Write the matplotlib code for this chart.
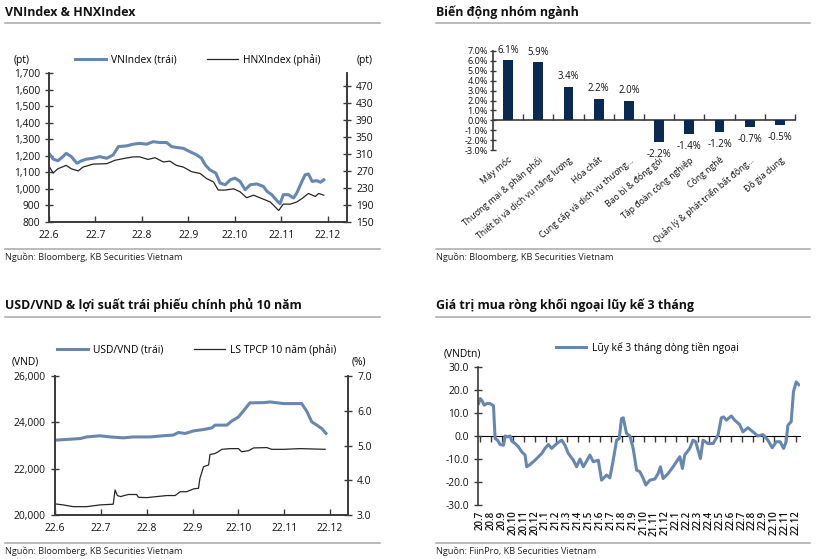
import numpy as np
import matplotlib
matplotlib.use('Agg')
import matplotlib.pyplot as plt
from matplotlib.lines import Line2D
from matplotlib.ticker import FuncFormatter

plt.rcParams['font.family'] = ['Open Sans', 'DejaVu Sans']

# ---- Dữ liệu: VNIndex & HNXIndex (tháng tính từ 22.6)
vn_x = [0, 0.09, 0.19, 0.30, 0.37, 0.48, 0.60, 0.70, 0.81, 0.95, 1.09, 1.24, 1.38, 1.49, 1.67,
        1.81, 1.95, 2.10, 2.24, 2.39, 2.53, 2.64, 2.75, 2.89, 3.03, 3.18, 3.28, 3.36, 3.46, 3.59,
        3.68, 3.79, 3.90, 4.00, 4.11, 4.22, 4.33, 4.47, 4.61, 4.69, 4.79, 4.90, 4.97, 5.04, 5.15,
        5.26, 5.33, 5.44, 5.51, 5.58, 5.66, 5.76, 5.84, 5.91]
vn_y = [1215, 1180, 1170, 1195, 1215, 1195, 1155, 1170, 1180, 1185, 1195, 1185, 1205, 1255, 1260,
        1270, 1275, 1270, 1285, 1280, 1280, 1255, 1250, 1245, 1225, 1205, 1185, 1145, 1115, 1095,
        1035, 1025, 1055, 1065, 1045, 995, 1025, 1030, 1015, 985, 965, 930, 910, 965, 965,
        945, 975, 1045, 1085, 1090, 1045, 1050, 1040, 1055]
hnx_x = [0, 0.09, 0.19, 0.37, 0.48, 0.63, 0.73, 0.95, 1.24, 1.42, 1.60, 1.81, 1.95, 2.13, 2.28,
         2.46, 2.60, 2.74, 2.89, 3.07, 3.25, 3.39, 3.54, 3.64, 3.79, 3.97, 4.11, 4.25, 4.40, 4.58,
         4.76, 4.94, 5.04, 5.19, 5.33, 5.44, 5.58, 5.73, 5.80, 5.91]
hnx_y = [281, 265, 275, 283, 275, 270, 279, 286, 287, 295, 299, 303, 303, 297, 301,
         291, 293, 283, 279, 268, 264, 252, 244, 225, 225, 228, 221, 207, 213, 205,
         197, 177, 192, 192, 197, 205, 217, 210, 217, 213]
month_labels_1 = ['22.6', '22.7', '22.8', '22.9', '22.10', '22.11', '22.12']

# ---- Biến động nhóm ngành
sectors = ['Máy móc', 'Thương mại & phân phối', 'Thiết bị và dịch vụ năng lượng', 'Hóa chất',
           'Cung cấp và dịch vụ thương...', 'Bao bì & đóng gói', 'Tập đoàn công nghiệp',
           'Công nghệ', 'Quản lý & phát triển bất động...', 'Đồ gia dụng']
sector_chg = [6.1, 5.9, 3.4, 2.2, 2.0, -2.2, -1.4, -1.2, -0.7, -0.5]

# ---- USD/VND & lợi suất TPCP 10 năm
usd_x = [0, 0.25, 0.55, 0.69, 0.98, 1.20, 1.49, 1.71, 2.07, 2.36, 2.58, 2.69, 2.84, 3.02, 3.24,
         3.42, 3.49, 3.75, 3.85, 4.00, 4.15, 4.25, 4.55, 4.69, 4.98, 5.20, 5.38, 5.49, 5.60, 5.71,
         5.82, 5.91]
usd_y = [23230, 23260, 23300, 23370, 23420, 23370, 23330, 23370, 23370, 23420, 23450, 23560, 23520,
         23630, 23690, 23760, 23880, 23880, 24050, 24230, 24590, 24840, 24850, 24880, 24810, 24810,
         24810, 24480, 24020, 23880, 23730, 23520]
bond_x = [0, 0.18, 0.40, 0.69, 0.98, 1.27, 1.31, 1.36, 1.43, 1.51, 1.60, 1.78, 1.82, 2.00, 2.22,
          2.44, 2.62, 2.73, 2.87, 3.02, 3.13, 3.16, 3.24, 3.35, 3.38, 3.49, 3.56, 3.64, 3.82, 4.00,
          4.07, 4.22, 4.33, 4.62, 4.73, 4.98, 5.35, 5.89]
bond_y = [3.32, 3.29, 3.24, 3.24, 3.29, 3.31, 3.72, 3.56, 3.53, 3.56, 3.59, 3.59, 3.51, 3.50, 3.53,
          3.56, 3.56, 3.67, 3.67, 3.75, 3.77, 4.05, 4.39, 4.44, 4.74, 4.77, 4.82, 4.89, 4.91, 4.91,
          4.82, 4.85, 4.93, 4.94, 4.89, 4.89, 4.91, 4.89]

# ---- Lũy kế 3 tháng dòng tiền ngoại (tháng tính từ 20.7)
flow_x = [-0.15, 0, 0.15, 0.37, 0.61, 0.92, 1.22, 1.37, 1.59, 1.83, 2.14, 2.29, 2.50, 2.75, 2.90,
          3.21, 3.51, 3.82, 4.12, 4.27, 4.58, 5.04, 5.65, 5.95, 6.26, 6.56, 7.02, 7.48, 7.78, 8.09,
          8.55, 8.85, 9.16, 9.46, 9.77, 10.07, 10.38, 10.84, 11.14, 11.60, 11.90, 12.21, 12.52, 12.76,
          12.97, 13.13, 13.43, 13.74, 14.04, 14.35, 14.65, 14.96, 15.20, 15.57, 16.03, 16.33, 16.54,
          16.79, 17.25, 17.70, 18.01, 18.32, 18.56, 18.77, 19.23, 19.54, 19.78, 20.21, 20.45, 20.91,
          21.37, 21.83, 22.13, 22.34, 22.59, 23.05, 23.35, 23.81, 24.11, 24.57, 25.03, 25.49, 25.95,
          26.40, 26.80, 27.17, 27.53, 27.84, 28.08, 28.24, 28.54, 28.75, 29.00, 29.24]
flow_y = [14.1, 16.3, 15.5, 13.4, 14.1, 14.1, 13.1, -1.1, -1.8, -3.7, -4.0, 0.0, -0.4, 0.0, -2.2,
          -3.3, -4.7, -6.9, -8.3, -13.4, -12.4, -10.5, -7.6, -5.4, -3.7, -5.4, -3.3, -1.8, -4.0, -7.6,
          -10.5, -13.4, -10.0, -13.4, -10.9, -8.3, -11.2, -10.5, -19.2, -17.0, -18.2, -10.5, -1.8, -1.1,
          7.6, 7.9, 1.1, 0.0, -5.4, -14.8, -15.5, -18.4, -21.3, -19.2, -18.7, -16.3, -13.4,
          -18.5, -16.3, -13.4, -11.2, -9.0, -14.1, -8.3, -5.4, -1.8, -2.5, -9.8, -1.8, -3.3,
          -3.3, 0.4, 7.9, 8.3, 6.9, 8.7, 6.9, 5.0, 1.8, 3.6, 1.8, 0.0, 0.6,
          -1.8, -5.1, -2.5, -2.5, -5.4, -2.5, 4.7, 6.2, 19.2, 23.5, 22.3]
month_labels_4 = ['20.7', '20.8', '20.9', '20.10', '20.11', '20.12'] + \
                 ['21.%d' % i for i in range(1, 13)] + ['22.%d' % i for i in range(1, 13)]

W, H = 819, 559
blue = '#6787b0'
navy = '#0b2a52'
dark = '#262626'
axcol = '#3a3a3a'
sepcol = '#a8a8a8'

fig = plt.figure(figsize=(W / 100, H / 100), dpi=100)


def fx(px):
    return px / W


def fy(py):
    return 1 - py / H


def frame(x0, x1, y_title, y_line, y_src_line, y_src, title, src):
    fig.text(fx(x0), fy(y_title), title, fontsize=8.9, fontweight='bold', va='center', ha='left',
             color='#111111')
    for yy in (y_line, y_src_line):
        fig.add_artist(Line2D([fx(x0), fx(x1)], [fy(yy), fy(yy)], color=sepcol, lw=1.1))
    fig.text(fx(x0), fy(y_src), src, fontsize=6.6, va='center', ha='left', color='#222222')


def add_ax(l, t, r, b):
    return fig.add_axes([fx(l), fy(b), fx(r - l), (b - t) / H])


def style_ax(ax):
    for s in ax.spines.values():
        s.set_color(axcol)
        s.set_linewidth(1.2)
    ax.tick_params(colors=axcol, labelcolor='#111111', labelsize=7.4, width=1.0)


# ================= Panel 1
frame(5, 380, 12, 23, 249, 257, 'VNIndex & HNXIndex', 'Nguồn: Bloomberg, KB Securities Vietnam')
ax1 = add_ax(49, 73, 347, 222)
ax1r = ax1.twinx()
l1, = ax1.plot(vn_x, vn_y, color=blue, lw=2.2)
l2, = ax1r.plot(hnx_x, hnx_y, color=dark, lw=0.9)
ax1.set_xlim(0, 6.41)
ax1.set_ylim(800, 1700)
ax1.set_yticks(range(800, 1701, 100))
ax1.yaxis.set_major_formatter(FuncFormatter(lambda v, p: '{:,.0f}'.format(v)))
ax1r.set_ylim(150, 500)
ax1r.set_yticks(range(150, 471, 40))
ax1.set_xticks(range(7), month_labels_1)
for a in (ax1, ax1r):
    style_ax(a)
    a.spines['top'].set_visible(False)
ax1.tick_params(axis='x', direction='in', length=4, pad=6)
ax1.tick_params(axis='y', direction='inout', length=6)
ax1r.tick_params(axis='y', direction='inout', length=6)
fig.legend([l1, l2], ['VNIndex (trái)', 'HNXIndex (phải)'], loc='center', ncol=2, frameon=False,
           bbox_to_anchor=(fx(198), fy(60)), fontsize=7.4, handlelength=3.0, columnspacing=3.0,
           handletextpad=0.5)
fig.text(fx(14), fy(61), '(pt)', fontsize=7.4, va='center')
fig.text(fx(357), fy(61), '(pt)', fontsize=7.4, va='center')

# ================= Panel 2
frame(436, 810, 12, 23, 249, 257, 'Biến động nhóm ngành', 'Nguồn: Bloomberg, KB Securities Vietnam')
ax2 = add_ax(493, 51, 795, 150)
pos = np.arange(len(sectors))
bars = ax2.bar(pos, sector_chg, width=0.32, color=navy)
for b, v in zip(bars, sector_chg):
    ax2.annotate('{:.1f}%'.format(v), (b.get_x() + b.get_width() / 2, v),
                 xytext=(0, 3 if v > 0 else -5), textcoords='offset points',
                 ha='center', va='bottom' if v > 0 else 'top', fontsize=6.9, color='#111111')
ax2.set_xlim(-0.5, 9.5)
ax2.set_ylim(-3, 7)
ax2.set_yticks(range(-3, 8))
ax2.yaxis.set_major_formatter(FuncFormatter(lambda v, p: '{:.1f}%'.format(v)))
style_ax(ax2)
for s in ('top', 'right', 'bottom'):
    ax2.spines[s].set_visible(False)
ax2.tick_params(axis='y', direction='inout', length=5, labelsize=6.6, pad=1)
ax2.set_xticks(pos)
ax2.set_xticklabels(sectors, rotation=40, ha='right', rotation_mode='anchor', fontsize=6.3)
ax2.tick_params(axis='x', length=0, pad=4)
zero2 = ax2.secondary_xaxis(0.3)
zero2.set_xticks(np.arange(0.5, 10, 1))
zero2.set_xticklabels([])
zero2.tick_params(direction='in', length=4, color=axcol, width=1.0)
zero2.spines['bottom'].set_color(axcol)
zero2.spines['bottom'].set_linewidth(1.2)

# ================= Panel 3
frame(5, 380, 305, 317, 543, 551, 'USD/VND & lợi suất trái phiếu chính phủ 10 năm',
      'Nguồn: Bloomberg, KB Securities Vietnam')
ax3 = add_ax(55, 376, 348, 515)
ax3r = ax3.twinx()
l3, = ax3.plot(usd_x, usd_y, color=blue, lw=2.2)
l4, = ax3r.plot(bond_x, bond_y, color=dark, lw=0.9)
ax3.set_xlim(0, 6.39)
ax3.set_ylim(20000, 26000)
ax3.set_yticks(range(20000, 26001, 2000))
ax3.yaxis.set_major_formatter(FuncFormatter(lambda v, p: '{:,.0f}'.format(v)))
ax3r.set_ylim(3, 7)
ax3r.set_yticks(range(3, 8))
ax3r.yaxis.set_major_formatter(FuncFormatter(lambda v, p: '{:.1f}'.format(v)))
ax3.set_xticks(range(7), month_labels_1)
for a in (ax3, ax3r):
    style_ax(a)
    a.spines['top'].set_visible(False)
ax3.tick_params(axis='x', direction='in', length=4, pad=6)
ax3.tick_params(axis='y', direction='inout', length=6)
ax3r.tick_params(axis='y', direction='inout', length=6)
fig.legend([l3, l4], ['USD/VND (trái)', 'LS TPCP 10 năm (phải)'], loc='center', ncol=2, frameon=False,
           bbox_to_anchor=(fx(197), fy(350)), fontsize=7.4, handlelength=3.0, columnspacing=3.0,
           handletextpad=0.5)
fig.text(fx(12), fy(362), '(VND)', fontsize=7.4, va='center')
fig.text(fx(352), fy(362), '(%)', fontsize=7.4, va='center')

# ================= Panel 4
frame(436, 810, 305, 317, 543, 551, 'Giá trị mua ròng khối ngoại lũy kế 3 tháng',
      'Nguồn: FiinPro, KB Securities Vietnam')
ax4 = add_ax(478, 367, 800, 505)
l5, = ax4.plot(flow_x, flow_y, color=blue, lw=2.2)
ax4.set_xlim(-0.2, 29.35)
ax4.set_ylim(-30, 30)
ax4.set_yticks(range(-30, 31, 10))
ax4.yaxis.set_major_formatter(FuncFormatter(lambda v, p: '{:.1f}'.format(v)))
style_ax(ax4)
for s in ('top', 'right', 'bottom'):
    ax4.spines[s].set_visible(False)
ax4.tick_params(axis='y', direction='inout', length=6)
ax4.set_xticks(range(len(month_labels_4)))
ax4.set_xticklabels(month_labels_4, rotation=90, fontsize=7.0, fontweight='semibold')
ax4.tick_params(axis='x', length=0, pad=4)
zero4 = ax4.secondary_xaxis(0.5)
zero4.set_xticks(range(len(month_labels_4)))
zero4.set_xticklabels([])
zero4.tick_params(direction='in', length=4, color=axcol, width=1.0)
zero4.spines['bottom'].set_color(axcol)
zero4.spines['bottom'].set_linewidth(1.2)
fig.legend([l5], ['Lũy kế 3 tháng dòng tiền ngoại'], loc='center', frameon=False,
           bbox_to_anchor=(fx(647), fy(348)), fontsize=7.4, handlelength=3.0, handletextpad=0.5)
fig.text(fx(444), fy(354), '(VNDtn)', fontsize=7.4, va='center')

fig.savefig('out.png', dpi=100)
